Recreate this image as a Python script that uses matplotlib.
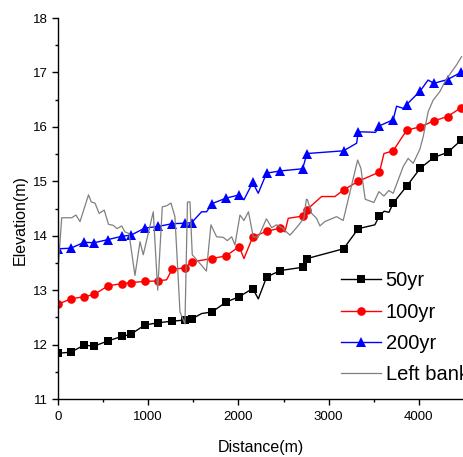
import numpy as np
import matplotlib
matplotlib.use("Agg")
import matplotlib.pyplot as plt
from matplotlib import font_manager

# ---- data ----
stations = [0, 141, 291, 399, 557, 709, 809, 961, 1108, 1263, 1407, 1481, 1708, 1862,
            2009, 2159, 2312, 2463, 2711, 2760, 3165, 3328, 3563, 3715, 3865, 4015,
            4167, 4318, 4465]

y_50yr = [11.84, 11.86, 11.99, 11.97, 12.07, 12.15, 12.19, 12.36, 12.40, 12.43, 12.45,
          12.47, 12.60, 12.78, 12.88, 13.03, 13.24, 13.36, 13.42, 13.58, 13.76, 14.13,
          14.37, 14.60, 14.91, 15.24, 15.44, 15.53, 15.75]
y_100yr = [12.74, 12.84, 12.88, 12.92, 13.08, 13.12, 13.14, 13.16, 13.17, 13.38, 13.41,
           13.52, 13.58, 13.63, 13.80, 13.98, 14.08, 14.14, 14.36, 14.48, 14.84, 15.00,
           15.17, 15.56, 15.94, 16.00, 16.11, 16.19, 16.35]
y_200yr = [13.76, 13.77, 13.88, 13.87, 13.93, 13.99, 14.01, 14.14, 14.17, 14.22, 14.23,
           14.24, 14.59, 14.69, 14.75, 14.98, 15.15, 15.19, 15.23, 15.51, 15.56, 15.91,
           16.02, 16.13, 16.41, 16.66, 16.80, 16.87, 17.00]

# intermediate (unmarked) vertices of each water-surface line
kx_50yr = [1592, 2220, 3512, 3616, 3668]
ky_50yr = [12.57, 12.84, 14.20, 14.45, 14.43]
kx_100yr = [1204, 2061, 2515, 2552, 2921, 3070, 3613]
ky_100yr = [13.19, 13.58, 14.07, 14.32, 14.72, 14.72, 15.51]
kx_200yr = [1592, 1647, 2061, 2219, 3310, 3520, 3753, 3826, 4102]
ky_200yr = [14.44, 14.44, 14.66, 14.78, 15.70, 15.90, 16.38, 16.34, 16.86]

bank_x = [0, 41, 152, 199, 244, 338, 369, 410, 456, 512, 560, 613, 654, 706, 742, 787,
          853, 909, 945, 1056, 1105, 1156, 1204, 1252, 1296, 1352, 1407, 1435, 1463,
          1488, 1573, 1645, 1695, 1758, 1832, 1876, 1925, 1961, 2017, 2061, 2111, 2164,
          2219, 2310, 2368, 2423, 2479, 2571, 2645, 2726, 2753, 2765, 2811, 2866, 2903,
          2958, 3088, 3161, 3321, 3357, 3405, 3501, 3557, 3612, 3667, 3715, 3756, 3826,
          3881, 3937, 4011, 4048, 4103, 4158, 4233, 4299, 4362, 4418, 4473]
bank_y = [13.37, 14.33, 14.33, 14.38, 14.26, 14.75, 14.62, 14.60, 14.41, 14.47, 14.21,
          14.19, 14.13, 14.18, 14.07, 14.04, 13.27, 13.89, 13.65, 14.44, 13.00, 14.53,
          14.55, 14.60, 14.35, 12.60, 12.38, 14.62, 14.62, 13.65, 13.49, 13.35, 14.20,
          13.98, 13.97, 13.91, 13.98, 13.83, 14.38, 14.28, 14.44, 13.98, 13.97, 14.31,
          14.15, 14.20, 14.15, 14.01, 14.15, 14.32, 14.67, 14.66, 14.41, 14.32, 14.18,
          14.26, 14.35, 14.28, 15.39, 15.24, 14.67, 14.61, 14.81, 14.73, 14.83, 14.78,
          14.96, 15.27, 15.42, 15.33, 15.59, 15.82, 16.28, 16.49, 16.65, 16.86, 17.01,
          17.14, 17.29]

labels = ["50yr", "100yr", "200yr", "Left bank"]
x_ticks = [0, 1000, 2000, 3000, 4000]
y_ticks = [11, 12, 13, 14, 15, 16, 17, 18]

# ---- fonts ----
avail = {f.name for f in font_manager.fontManager.ttflist}
narrow = "Liberation Sans Narrow" in avail
fam = "Liberation Sans Narrow" if narrow else "Liberation Sans"
plt.rcParams["font.family"] = [fam, "DejaVu Sans"]
k = 1.15 if narrow else 1.0
tick_fs, lab_fs, leg_fs = 9.5 * k, 11.5 * k, 14.5 * k

fig = plt.figure(figsize=(4.63, 4.57), dpi=100)
ax = fig.add_axes([58 / 463, 1 - 399 / 457, 406 / 463, 381 / 457])


def merged(xm, ym, xk, yk):
    xs = np.array(list(xm) + list(xk), dtype=float)
    ys = np.array(list(ym) + list(yk), dtype=float)
    ism = np.array([True] * len(xm) + [False] * len(xk))
    order = np.argsort(xs, kind="stable")
    return xs[order], ys[order], list(np.nonzero(ism[order])[0])


specs = [
    (y_50yr, kx_50yr, ky_50yr, "black", "s", 5.2),
    (y_100yr, kx_100yr, ky_100yr, "#ff0000", "o", 6.2),
    (y_200yr, kx_200yr, ky_200yr, "#0000ff", "^", 6.8),
]
for (ym, xk, yk, col, mk, ms), lab in zip(specs, labels[:3]):
    xs, ys, idx = merged(stations, ym, xk, yk)
    ax.plot(xs, ys, color=col, lw=1.0, marker=mk, ms=ms, markevery=idx,
            markeredgewidth=0, label=lab)

ax.plot(bank_x, bank_y, color="#808080", lw=0.9, label=labels[3])

ax.set_xlim(0, 4500)
ax.set_ylim(11, 18)
ax.set_xticks(x_ticks)
ax.set_yticks(y_ticks)
ax.set_xticks(np.arange(500, 4500, 1000), minor=True)
ax.set_yticks(np.arange(11.5, 18, 1.0), minor=True)

for s in ["top", "right"]:
    ax.spines[s].set_visible(False)
for s in ["left", "bottom"]:
    ax.spines[s].set_linewidth(1.0)

ax.tick_params(which="major", direction="out", length=4.5, width=1.0,
               labelsize=tick_fs, pad=3)
ax.tick_params(which="minor", direction="out", length=2.5, width=1.0)
ax.tick_params(axis="x", which="major", pad=4.5)

ax.set_xlabel("Distance(m)", fontsize=lab_fs)
ax.set_ylabel("Elevation(m)", fontsize=lab_fs)
ax.xaxis.set_label_coords(0.5, -0.108)
ax.yaxis.set_label_coords(-0.075, 0.47)

leg = fig.legend(loc="upper left", bbox_to_anchor=(340.7 / 463, 1 - 271.5 / 457),
                 frameon=False, fontsize=leg_fs, handlelength=1.98, handletextpad=0.25,
                 labelspacing=0.6, borderpad=0, borderaxespad=0)

fig.savefig("out.png", dpi=100)
